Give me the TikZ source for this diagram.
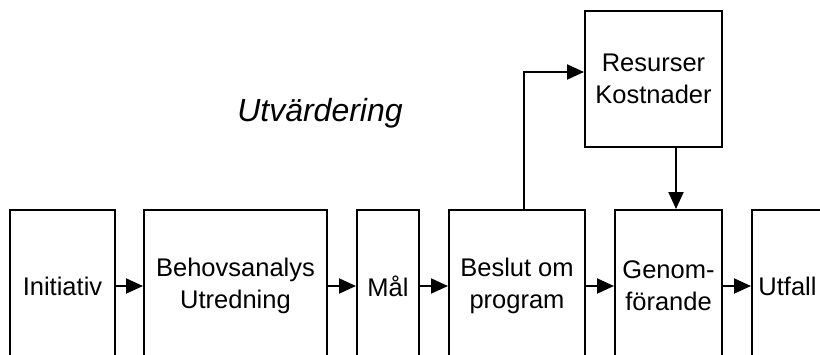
\documentclass[tikz,border=0pt]{standalone}
\usepackage{fontspec}
\setmainfont{Liberation Sans}
\usetikzlibrary{arrows.meta,positioning}

\begin{document}
\begin{tikzpicture}[
  x=1pt,y=-1pt,
  stage/.style={draw,line width=2pt,minimum height=152pt,inner sep=0pt,align=center,
    font=\fontsize{25.5}{32}\selectfont},
  flow/.style={line width=2pt,-{Triangle[length=17pt,width=15pt]}}
]
  \clip (0,0) rectangle (820,354);

  \node[font=\fontsize{32}{38}\selectfont\itshape] (title) at (320,113) {Utvärdering};

  \node[stage,minimum width=105pt] (init) at (62.5,286) {Initiativ};
  \node[stage,minimum width=183pt] (behov) at (235.5,286) {Behovsanalys\\Utredning};
  \node[stage,minimum width=62pt] (mal) at (388,286) {Mål};
  \node[stage,minimum width=136pt] (beslut) at (517,286) {Beslut om\\program};
  \node[stage,minimum width=107pt] (genom) at (668.5,286) {Genom-\\förande};
  \node[stage,minimum width=71pt] (utfall) at (787.5,286) {Utfall};
  \node[stage,minimum width=137pt,minimum height=136pt] (res) at (653.5,79) {Resurser\\Kostnader};

  \draw[flow] (init) -- (behov);
  \draw[flow] (behov) -- (mal);
  \draw[flow] (mal) -- (beslut);
  \draw[flow] (beslut) -- (genom);
  \draw[flow] (genom) -- (utfall);
  \draw[flow] ([xshift=7pt]beslut.north) |- ([yshift=7pt]res.west);
  \draw[flow] ([xshift=22.5pt]res.south) -- ([xshift=22.5pt]res.south |- genom.north);
\end{tikzpicture}
\end{document}
